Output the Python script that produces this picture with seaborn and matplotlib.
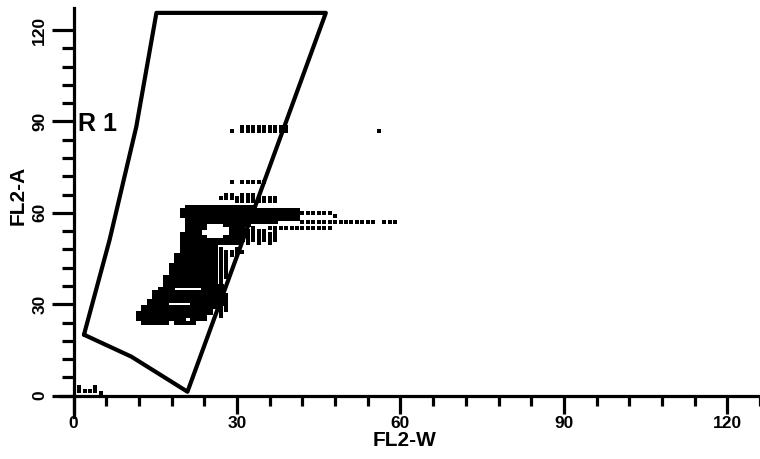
import matplotlib
matplotlib.use('Agg')
import matplotlib.pyplot as plt
import numpy as np
import pandas as pd
import seaborn as sns

# gate R1 outline (FL2-W, FL2-A)
gate_w = [1.9, 6.6, 11.5, 15.2, 46.3, 20.9, 10.6, 1.9]
gate_a = [20.0, 51.1, 88.2, 125.6, 125.6, 1.3, 12.8, 20.0]

# dense event rows: (FL2-A, FL2-W from, FL2-W to)
dense_rows = [
    (62, 21, 33), (61, 20, 41), (60, 20, 41), (59, 20, 41), (58, 21, 41),
    (57, 21, 37), (56, 21, 24), (56, 28, 32), (55, 21, 24), (55, 29, 31),
    (54, 21, 23), (54, 29, 31), (53, 20, 23), (53, 29, 31), (52, 20, 24),
    (52, 28, 31), (51, 20, 31), (50, 20, 30), (49, 20, 26), (48, 20, 26),
    (47, 20, 26), (46, 19, 26), (45, 19, 26), (44, 19, 26), (43, 18, 26),
    (42, 18, 26), (41, 18, 26), (40, 18, 26), (39, 17, 26), (38, 17, 26),
    (37, 17, 26), (36, 17, 27), (35, 16, 18), (35, 24, 27), (34, 15, 27),
    (33, 15, 27), (32, 15, 27), (31, 14, 27), (30, 14, 17), (30, 22, 27),
    (29, 13, 26), (28, 13, 25), (27, 12, 25), (26, 12, 24), (25, 12, 20),
    (25, 22, 24), (24, 13, 17), (24, 19, 22),
]

# sparse event rows: (FL2-A, FL2-W from, FL2-W to)
sparse_rows = [
    (88, 31, 39), (87, 29, 29), (87, 31, 39), (87, 56, 56),
    (70, 29, 29), (70, 31, 35),
    (66, 28, 29), (66, 31, 33), (65, 27, 37), (64, 30, 37),
    (60, 42, 47), (59, 48, 48),
    (57, 42, 55), (57, 57, 59),
    (55, 36, 47),
    (3, 1, 1), (3, 4, 4), (1.5, 1, 4), (1, 5, 5),
]

# sparse event columns: (FL2-W, FL2-A from, FL2-A to)
sparse_cols = [
    (27, 37, 48), (28, 39, 47), (28, 28, 33), (29, 46, 47), (30, 46, 48),
    (31, 47, 47), (32, 50, 54), (33, 51, 55), (34, 50, 54), (35, 51, 54),
    (36, 50, 53), (37, 51, 54), (27, 26, 29),
]

x_major = [0, 30, 60, 90, 120]
y_major = [0, 30, 60, 90, 120]
x_minor = np.arange(0, 127, 6)
y_minor = np.arange(0, 115, 6)


def expand_rows(rows):
    pts = []
    for a, w0, w1 in rows:
        for w in range(int(w0), int(w1) + 1):
            pts.append((w, a))
    return pts


def expand_cols(cols):
    pts = []
    for w, a0, a1 in cols:
        for a in range(int(a0), int(a1) + 1):
            pts.append((w, a))
    return pts


dense = pd.DataFrame(expand_rows(dense_rows), columns=['FL2-W', 'FL2-A'])
sparse = pd.DataFrame(expand_rows(sparse_rows) + expand_cols(sparse_cols),
                      columns=['FL2-W', 'FL2-A'])

sns.set_style('white', {'axes.edgecolor': 'black', 'text.color': 'black',
                        'xtick.color': 'black', 'ytick.color': 'black',
                        'axes.labelcolor': 'black'})
plt.rcParams['font.family'] = ['Liberation Sans Narrow', 'Liberation Sans', 'DejaVu Sans']

fig = plt.figure(figsize=(7.6, 4.59), dpi=100)
ax = fig.add_axes([60 / 760, 42 / 459, 700 / 760, 409 / 459])

rect_dense = [(-1, -0.62), (1, -0.62), (1, 0.62), (-1, 0.62), (-1, -0.62)]
rect_sparse = [(-1, -0.8), (1, -0.8), (1, 0.8), (-1, 0.8), (-1, -0.8)]

sns.scatterplot(data=dense, x='FL2-W', y='FL2-A', marker=rect_dense, s=16.5,
                color='black', linewidth=0, ax=ax)
sns.scatterplot(data=sparse, x='FL2-W', y='FL2-A', marker=rect_sparse, s=8.5,
                color='black', linewidth=0, ax=ax)

ax.plot(gate_w, gate_a, color='black', lw=3, solid_joinstyle='round')
ax.text(0.8, 89, 'R 1', fontsize=18, weight='bold', va='center', ha='left',
        family=['Liberation Sans', 'DejaVu Sans'])

ax.set_xlim(-2.5, 125.4)
ax.set_ylim(-7, 127.2)

for side in ['top', 'right']:
    ax.spines[side].set_visible(False)
ax.spines['left'].set_position(('data', 0))
ax.spines['bottom'].set_position(('data', 0))
ax.spines['left'].set_linewidth(2.3)
ax.spines['bottom'].set_linewidth(2.3)

ax.set_xticks(x_major)
ax.set_xticks([v for v in x_minor if v not in x_major], minor=True)
ax.set_yticks(y_major)
ax.set_yticks([v for v in y_minor if v not in y_major], minor=True)
ax.set_xticklabels([str(v) for v in x_major], fontsize=12.5, weight='bold')
ax.set_yticklabels([str(v) for v in y_major], fontsize=12.5, weight='bold',
                   rotation=90, va='center')

ax.tick_params(axis='x', which='major', direction='out', length=13, width=2.3,
               pad=1.5, bottom=True, colors='black')
ax.tick_params(axis='x', which='minor', direction='out', length=7, width=2.3,
               bottom=True, colors='black')
ax.tick_params(axis='y', which='major', direction='out', length=16, width=2.3,
               pad=3, left=True, colors='black')
ax.tick_params(axis='y', which='minor', direction='out', length=8.5, width=2.3,
               left=True, colors='black')

ax.set_xlabel('FL2-W', fontsize=15, weight='bold', color='black')
ax.set_ylabel('FL2-A', fontsize=15, weight='bold', color='black')
ax.xaxis.set_label_coords((405 - 60) / 700, -0.034)
ax.yaxis.set_label_coords(-0.046, 0.543)

fig.savefig('out.png', dpi=100)
